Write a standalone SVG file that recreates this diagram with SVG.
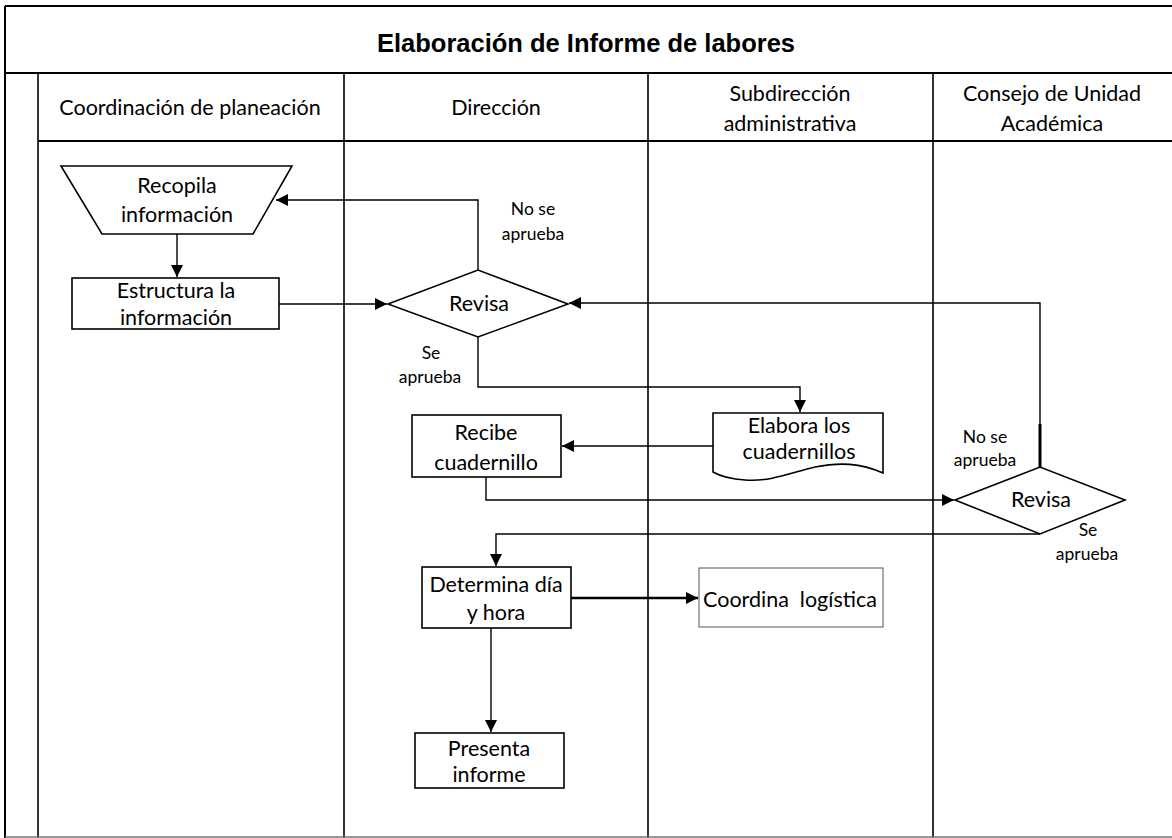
<svg xmlns="http://www.w3.org/2000/svg" width="1172" height="838" viewBox="0 0 1172 838">
  <style>
    .frame { stroke: #000; stroke-width: 2; fill: none; }
    .lane { stroke: #000; stroke-width: 1.6; fill: none; }
    .shape { fill: #fff; stroke: #000; stroke-width: 1.6; }
    .thin { fill: #fff; stroke: #555; stroke-width: 1; }
    .conn { fill: none; stroke: #000; stroke-width: 1.4; }
    .title { font-family: "Liberation Sans", Arial, sans-serif; font-weight: bold; font-size: 25.5px; text-anchor: middle; fill: #000; }
    .hdr { font-family: Lato, "Noto Sans", sans-serif; font-size: 21.5px; text-anchor: middle; fill: #000; }
    .txt { font-family: Lato, "Noto Sans", sans-serif; font-size: 21.5px; text-anchor: middle; fill: #000; }
    .lbl { font-family: Lato, "Noto Sans", sans-serif; font-size: 17.5px; text-anchor: middle; fill: #000; }
  </style>
  <defs>
    <marker id="arrow" markerUnits="userSpaceOnUse" markerWidth="12" markerHeight="12" viewBox="0 0 12 12" refX="12" refY="6" orient="auto">
      <path d="M0,0 L12,6 L0,12 Z" fill="#000"/>
    </marker>
  </defs>
  <rect width="1172" height="838" fill="#fff"/>

  <!-- swimlane frame -->
  <g id="frame">
    <line class="frame" x1="5" y1="6" x2="1172" y2="6"/>
    <line class="frame" x1="5" y1="6" x2="5" y2="838"/>
    <line class="frame" x1="5" y1="73" x2="1172" y2="73"/>
    <line class="frame" x1="38" y1="141" x2="1172" y2="141"/>
    <line class="lane" x1="38" y1="73" x2="38" y2="838"/>
    <line class="lane" x1="344" y1="73" x2="344" y2="838"/>
    <line class="lane" x1="648" y1="73" x2="648" y2="838"/>
    <line class="lane" x1="933" y1="73" x2="933" y2="838"/>
    <line x1="5" y1="837" x2="1172" y2="837" stroke="#777" stroke-width="1.5"/>
    <text class="title" x="586" y="52">Elaboración de Informe de labores</text>
    <text class="hdr" x="190" y="115">Coordinación de planeación</text>
    <text class="hdr" x="496" y="115">Dirección</text>
    <text class="hdr" x="790" y="101">Subdirección</text>
    <text class="hdr" x="790" y="131">administrativa</text>
    <text class="hdr" x="1052" y="101">Consejo de Unidad</text>
    <text class="hdr" x="1052" y="131">Académica</text>
  </g>

  <!-- connectors -->
  <g id="connectors">
    <path class="conn" d="M177,234 V277" marker-end="url(#arrow)"/>
    <path class="conn" d="M279,304 H387" marker-end="url(#arrow)"/>
    <path class="conn" d="M478,270 V200 H276" marker-end="url(#arrow)"/>
    <path class="conn" d="M478,337 V387 H800 V412" marker-end="url(#arrow)"/>
    <path class="conn" d="M713,446 H562" marker-end="url(#arrow)"/>
    <path class="conn" d="M486,477 V500 H954" marker-end="url(#arrow)"/>
    <path class="conn" d="M1040,467 V303 H569" marker-end="url(#arrow)"/>
    <line x1="1040" y1="424" x2="1040" y2="467" stroke="#000" stroke-width="3"/>
    <path class="conn" d="M1040,534 H496 V566" marker-end="url(#arrow)"/>
    <path d="M571,598 H698" fill="none" stroke="#000" stroke-width="2.6" marker-end="url(#arrow)"/>
    <path class="conn" d="M491,628 V732" marker-end="url(#arrow)"/>
    <text class="lbl" x="533" y="215">No se</text>
    <text class="lbl" x="533" y="240">aprueba</text>
    <text class="lbl" x="431" y="359">Se</text>
    <text class="lbl" x="430" y="383">aprueba</text>
    <text class="lbl" x="985" y="443">No se</text>
    <text class="lbl" x="985" y="466">aprueba</text>
    <text class="lbl" x="1088" y="536">Se</text>
    <text class="lbl" x="1087" y="560">aprueba</text>
  </g>

  <g id="recopila">
    <path class="shape" d="M61,166 H292 L253,234 H102 Z"/>
    <text class="txt" x="177" y="193">Recopila</text>
    <text class="txt" x="177" y="222">información</text>
  </g>

  <g id="estructura">
    <rect class="shape" x="72" y="278" width="207" height="51"/>
    <text class="txt" x="176" y="298">Estructura la</text>
    <text class="txt" x="176" y="325">información</text>
  </g>

  <g id="revisa-direccion">
    <path class="shape" d="M388,304 L478,270 L568,304 L478,337 Z"/>
    <text class="txt" x="479" y="311">Revisa</text>
  </g>

  <g id="elabora">
    <path class="shape" d="M713,413 H883 V473 C860,463 840,462 815,467 C790,473 770,482 745,480 C730,479 720,476 713,472 Z"/>
    <text class="txt" x="799" y="433">Elabora los</text>
    <text class="txt" x="799" y="459">cuadernillos</text>
  </g>

  <g id="recibe">
    <rect class="shape" x="412" y="415" width="149" height="62"/>
    <text class="txt" x="486" y="440">Recibe</text>
    <text class="txt" x="486" y="470">cuadernillo</text>
  </g>

  <g id="revisa-consejo">
    <path class="shape" d="M955,500 L1040,467 L1125,500 L1040,534 Z"/>
    <text class="txt" x="1041" y="507">Revisa</text>
  </g>

  <g id="determina">
    <rect class="shape" x="422" y="567" width="149" height="61"/>
    <text class="txt" x="496" y="592">Determina día</text>
    <text class="txt" x="496" y="620">y hora</text>
  </g>

  <g id="coordina">
    <rect class="thin" x="699" y="568" width="184" height="59"/>
    <text class="txt" x="790" y="607" xml:space="preserve">Coordina  logística</text>
  </g>

  <g id="presenta">
    <rect class="shape" x="415" y="733" width="149" height="55"/>
    <text class="txt" x="489" y="756">Presenta</text>
    <text class="txt" x="489" y="782">informe</text>
  </g>
</svg>
